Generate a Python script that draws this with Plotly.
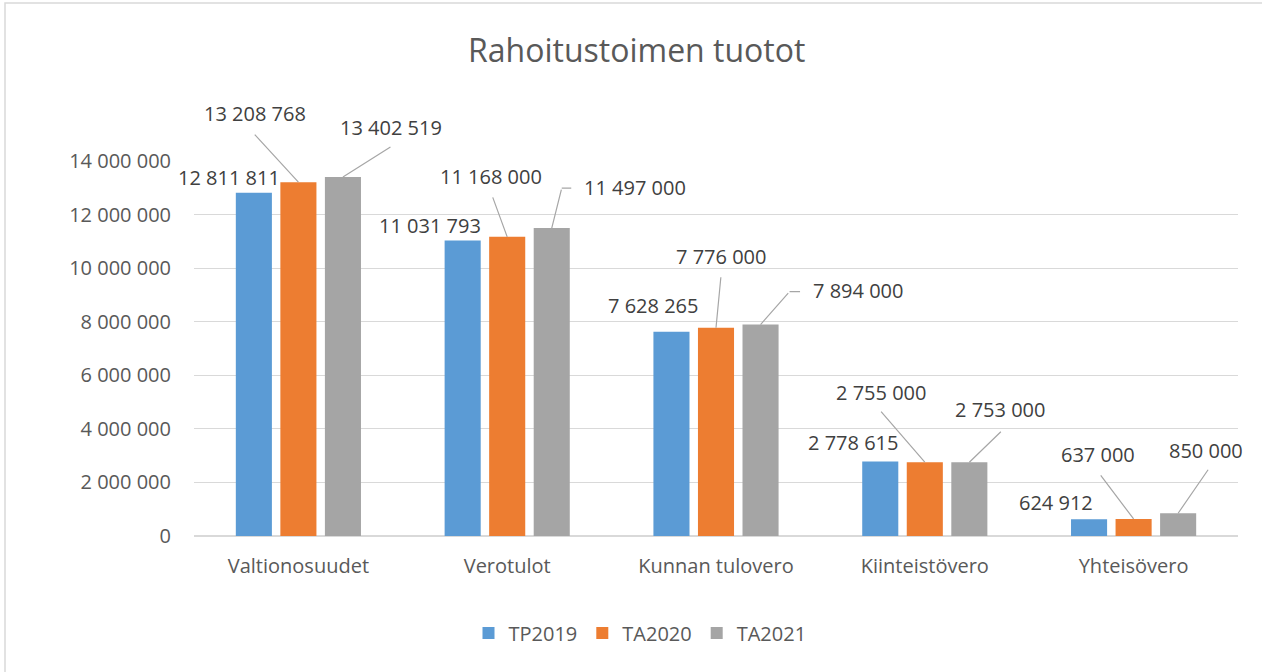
import plotly.graph_objects as go

# ---- data ----
categories = ["Valtionosuudet", "Verotulot", "Kunnan tulovero", "Kiinteistövero", "Yhteisövero"]
series_names = ["TP2019", "TA2020", "TA2021"]
tp2019 = [12811811, 11031793, 7628265, 2778615, 624912]
ta2020 = [13208768, 11168000, 7776000, 2755000, 637000]
ta2021 = [13402519, 11497000, 7894000, 2753000, 850000]
y_ticks = [0, 2000000, 4000000, 6000000, 8000000, 10000000, 12000000, 14000000]

# ---- style ----
colors = ["#5B9BD5", "#ED7D31", "#A5A5A5"]
FONT = "Open Sans"
BARGAP = 0.36
# label text offsets (px, screen: right, down) from bar-top centre, per series per category
label_offsets = [
    [(-25, -15), (-33, -15), (-18, -26), (-27, -19), (-33, -17)],
    [(-43, -69), (-16, -60), (5, -71), (-44, -70), (-36, -64)],
    [(48, -50), (83, -41), (97, -34), (31, -53), (28, -63)],
]
# leader lines: list of segments (start dx, start dy, end dx, end dy), px relative to bar top
leaders = {
    (1, 0): [(0, 0, -45, -49)],
    (2, 0): [(0, 0, 49, -31)],
    (1, 1): [(0, 0, -15, -41)],
    (2, 1): [(0, 0, 10, -40), (10, -40, 21, -40)],
    (1, 2): [(0, 0, 5, -52)],
    (2, 2): [(0, 0, 29, -33), (29, -33, 41, -33)],
    (1, 3): [(0, 0, -45, -52)],
    (2, 3): [(0, 0, 33, -32)],
    (1, 4): [(0, 0, -34, -45)],
    (2, 4): [(0, 0, 31, -45)],
}

series = [tp2019, ta2020, ta2021]

fig = go.Figure()
for name, vals, col in zip(series_names, series, colors):
    fig.add_trace(go.Bar(x=categories, y=vals, name=name, marker=dict(color=col, line=dict(width=0))))


def fmt(v):
    return f"{v:,}".replace(",", " ")


slot = (1 - BARGAP) / 3
annotations = []
for s, vals in enumerate(series):
    off = (s - 1) * slot
    for i, v in enumerate(vals):
        dx, dy = label_offsets[s][i]
        annotations.append(dict(
            x=i + off, y=v, xref="x", yref="y", text=fmt(v), showarrow=False,
            xshift=dx, yshift=-dy, font=dict(family=FONT, size=20, color="#404040"),
            xanchor="center", yanchor="middle"))
        for seg in leaders.get((s, i), []):
            x0, y0, x1, y1 = seg
            annotations.append(dict(
                x=i + off, y=v, xref="x", yref="y", text="", showarrow=True,
                arrowhead=0, arrowwidth=1.2, arrowcolor="#A6A6A6", standoff=0,
                xshift=x0, yshift=-y0, ax=x1 - x0, ay=y1 - y0, axref="pixel", ayref="pixel"))

W, H = 1262, 672
L, R, T, B = 194, 24, 161, 136
pw, ph = W - L - R, H - T - B
annotations.append(dict(
    x=(636 - L) / pw, y=(H - B - 49) / ph, xref="paper", yref="paper",
    text="Rahoitustoimen tuotot", showarrow=False, xanchor="center", yanchor="middle",
    font=dict(family=FONT, size=32, color="#595959")))

fig.update_layout(
    width=W, height=H,
    margin=dict(l=L, r=R, t=T, b=B, autoexpand=False),
    paper_bgcolor="white", plot_bgcolor="white",
    barmode="group", bargap=BARGAP, bargroupgap=0.19,
    separators=", ",
    font=dict(family=FONT, size=20, color="#595959"),
    showlegend=True,
    legend=dict(orientation="h", x=(640 - L) / pw, xanchor="center", y=(H - B - 633) / ph,
                yanchor="middle", font=dict(family=FONT, size=20, color="#595959"),
                itemclick=False),
    annotations=annotations,
    shapes=[dict(type="rect", xref="paper", yref="paper",
                 x0=(5 - L) / pw, x1=(W + 10 - L) / pw,
                 y0=(H - B - (H + 10)) / ph, y1=(H - B - 3) / ph,
                 line=dict(color="#D9D9D9", width=1.5), fillcolor="rgba(0,0,0,0)", layer="below")],
)
fig.update_xaxes(range=[-0.5, len(categories) - 0.5], autorange=False,
                 showgrid=False, showline=False, ticks="", tickfont=dict(size=20, color="#595959"),
                 ticklabelstandoff=16)
fig.update_yaxes(range=[0, 14000000], autorange=False, tickvals=y_ticks, tickformat=",d", showgrid=True,
                 gridcolor="#D9D9D9", gridwidth=1, zeroline=True, zerolinecolor="#D9D9D9",
                 showline=False, ticks="", ticklabelstandoff=22,
                 tickfont=dict(size=20, color="#595959"))

fig.write_html("out.html", config={"displayModeBar": False},
               post_script="document.body.style.margin='0px';document.body.style.overflow='hidden';")
